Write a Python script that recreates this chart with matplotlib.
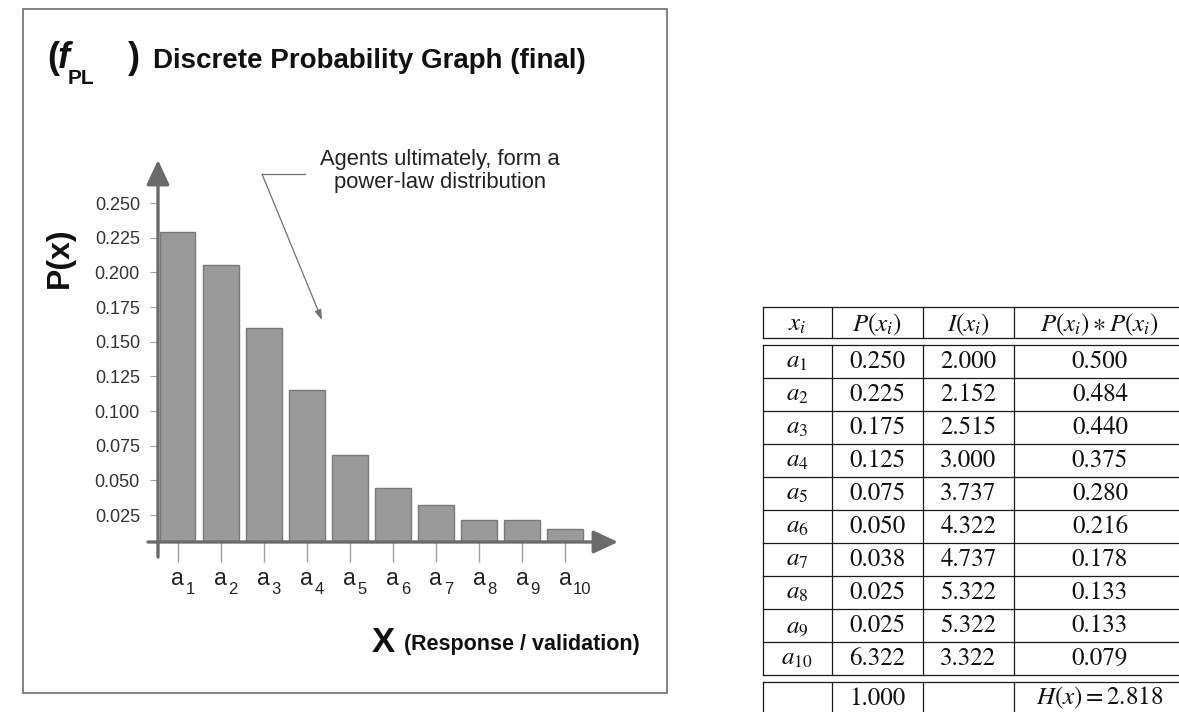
import matplotlib
matplotlib.use('Agg')
import matplotlib.pyplot as plt
import numpy as np
from matplotlib.lines import Line2D
from matplotlib.patches import Rectangle, FancyArrowPatch
from matplotlib.transforms import offset_copy

# ---------------- data ----------------
category_letter = 'a'
category_subscripts = ['1', '2', '3', '4', '5', '6', '7', '8', '9', '10']
probabilities = [0.229, 0.205, 0.160, 0.115, 0.068, 0.0445, 0.032, 0.0215, 0.0215, 0.015]
y_ticks = [0.025, 0.050, 0.075, 0.100, 0.125, 0.150, 0.175, 0.200, 0.225, 0.250]
y_tick_labels = ['0.025', '0.050', '0.075', '0.100', '0.125', '0.150', '0.175',
                 '0.200', '0.225', '0.250']

table_headers = [r'$x_i$', r'$P(x_i)$', r'$I(x_i)$', r'$P(x_i) \ast P(x_i)$']
table_x = [r'$a_1$', r'$a_2$', r'$a_3$', r'$a_4$', r'$a_5$', r'$a_6$', r'$a_7$',
           r'$a_8$', r'$a_9$', r'$a_{10}$']
table_p = ['0.250', '0.225', '0.175', '0.125', '0.075', '0.050', '0.038', '0.025',
           '0.025', '6.322']
table_i = ['2.000', '2.152', '2.515', '3.000', '3.737', '4.322', '4.737', '5.322',
           '5.322', '3.322']
table_pp = ['0.500', '0.484', '0.440', '0.375', '0.280', '0.216', '0.178', '0.133',
            '0.133', '0.079']
total_p = '1.000'
total_h = r'$H(x) = 2.818$'

# ---------------- style ----------------
plt.rcParams['font.family'] = ['Liberation Sans', 'DejaVu Sans']

W, H = 1179, 712
fig = plt.figure(figsize=(W / 100, H / 100), dpi=100)
fig.patch.set_facecolor('white')


def F(px, py):
    return (px / W, 1 - py / H)


AX_COL = '#6b6b6b'
TICK_COL = '#a0a0a0'
TXT = '#111111'

# frame around chart
fig.add_artist(Rectangle(F(23, 693), (667 - 23) / W, (693 - 9) / H,
                         transform=fig.transFigure, fill=False,
                         ec='#7a7a7a', lw=1.3))

# ---------------- bar chart ----------------
ax = fig.add_axes([158 / W, 1 - 542 / H, (620 - 158) / W, (542 - 160) / H])
x = np.arange(len(probabilities))
ax.bar(x, probabilities, width=0.835, color='#9a9a9a', edgecolor='#7a7a7a',
       linewidth=1.0, zorder=2)
ax.set_xlim(-0.4529, 10.276)
ax.set_ylim(0.00555, 0.28103)
for s in ax.spines.values():
    s.set_visible(False)
ax.patch.set_visible(False)
ax.set_yticks(y_ticks, y_tick_labels)
ax.set_xticks(x, [''] * len(x))
ax.tick_params(axis='y', direction='out', length=5.8, width=0.8, color=TICK_COL,
               pad=7.2, labelsize=13, labelcolor='#333333')
ax.tick_params(axis='x', direction='out', length=14.4, width=1.0, color=TICK_COL)

base_tr = ax.get_xaxis_transform()
tr_letter = offset_copy(base_tr, fig=fig, x=0, y=-43, units='dots')
tr_sub = offset_copy(base_tr, fig=fig, x=8, y=-52, units='dots')
for xi, sub in zip(x, category_subscripts):
    ax.text(xi, 0, category_letter, transform=tr_letter, ha='center', va='baseline',
            fontsize=16.5, color='#222222', clip_on=False)
    ax.text(xi, 0, sub, transform=tr_sub, ha='left', va='baseline',
            fontsize=12, color='#222222', clip_on=False)

arrow_kw = dict(arrowstyle='-|>,head_length=0.75,head_width=0.35', mutation_scale=20,
                color=AX_COL, lw=2.4, shrinkA=0, shrinkB=0)
fig.add_artist(FancyArrowPatch(F(158, 557), F(158, 160),
                               transform=fig.transFigure, **arrow_kw))
fig.add_artist(FancyArrowPatch(F(148, 542), F(618, 542),
                               transform=fig.transFigure, **arrow_kw))

# annotation leader
fig.add_artist(Line2D([305 / W, 262 / W], [1 - 174 / H, 1 - 174 / H],
                      transform=fig.transFigure, color='#707070', lw=0.9))
fig.add_artist(FancyArrowPatch(
    F(262, 174), F(322, 320), transform=fig.transFigure,
    arrowstyle='-|>,head_length=0.6,head_width=0.2', mutation_scale=10,
    color='#707070', lw=0.9, shrinkA=0, shrinkB=0))
fig.text(*F(440, 171), 'Agents ultimately, form a\npower-law distribution',
         ha='center', va='center', fontsize=15.8, color='#222222', linespacing=1.15)

# titles
fig.text(*F(47, 68), '(', fontsize=26, fontweight='bold', va='baseline', color=TXT)
fig.text(*F(58, 68), 'f', fontsize=26, fontweight='bold', fontstyle='italic',
         va='baseline', color=TXT)
fig.text(*F(68, 84), 'PL', fontsize=15, fontweight='bold', va='baseline', color=TXT)
fig.text(*F(128, 68), ')', fontsize=26, fontweight='bold', va='baseline', color=TXT)
fig.text(*F(153, 68), 'Discrete Probability Graph (final)', fontsize=20,
         fontweight='bold', va='baseline', color=TXT)

fig.text(*F(60, 258), 'P(x)', fontsize=23, fontweight='bold', rotation=90,
         ha='center', va='center', color=TXT)

# x-axis title: right-aligned sub-caption, big "X" placed just left of it
sub_t = fig.text(*F(640, 650), '(Response / validation)', fontsize=15.5,
                 fontweight='bold', ha='right', va='baseline', color=TXT)
renderer = fig.canvas.get_renderer()
bb = sub_t.get_window_extent(renderer=renderer)
fig.text((bb.x0 - 9) / W, 1 - 652 / H, 'X', fontsize=25, fontweight='bold',
         ha='right', va='baseline', color=TXT)

# ---------------- table ----------------
col_edges = [762.7, 831.7, 922.7, 1014.0, 1186.0]
col_centers = [(col_edges[k] + col_edges[k + 1]) / 2 for k in range(4)]
LC = '#1a1a1a'
LW = 0.9


def hline(py, x0=col_edges[0], x1=col_edges[-1]):
    fig.add_artist(Line2D([x0 / W, x1 / W], [1 - py / H, 1 - py / H],
                          transform=fig.transFigure, color=LC, lw=LW))


def vline(px, y0, y1):
    fig.add_artist(Line2D([px / W, px / W], [1 - y0 / H, 1 - y1 / H],
                          transform=fig.transFigure, color=LC, lw=LW))


head_top, head_bot = 306.7, 338.3
body_top, row_h = 345.0, 33.0
n = len(table_x)
body_bot = body_top + row_h * n
tot_top, tot_bot = body_bot + 6.7, body_bot + 6.7 + 40

hline(head_top)
hline(head_bot)
for r in range(n + 1):
    hline(body_top + r * row_h)
hline(tot_top)
hline(tot_bot)
for px in col_edges:
    vline(px, head_top, head_bot)
    vline(px, body_top, body_bot)
    vline(px, tot_top, tot_bot)

tkw = dict(ha='center', va='baseline', fontsize=18, color=TXT)
for c, h in enumerate(table_headers):
    fig.text(*F(col_centers[c], head_top + 24.5), h, math_fontfamily='stix', **tkw)
for r in range(n):
    yb = body_top + r * row_h + 23
    fig.text(*F(col_centers[0], yb), table_x[r], math_fontfamily='stix', **tkw)
    fig.text(*F(col_centers[1], yb), table_p[r], family='STIXGeneral', **tkw)
    fig.text(*F(col_centers[2], yb), table_i[r], family='STIXGeneral', **tkw)
    fig.text(*F(col_centers[3], yb), table_pp[r], family='STIXGeneral', **tkw)
fig.text(*F(col_centers[1], tot_top + 23), total_p, family='STIXGeneral', **tkw)
fig.text(*F(col_centers[3], tot_top + 23), total_h, math_fontfamily='stix', **tkw)

fig.savefig('out.png', dpi=100, facecolor='white')
